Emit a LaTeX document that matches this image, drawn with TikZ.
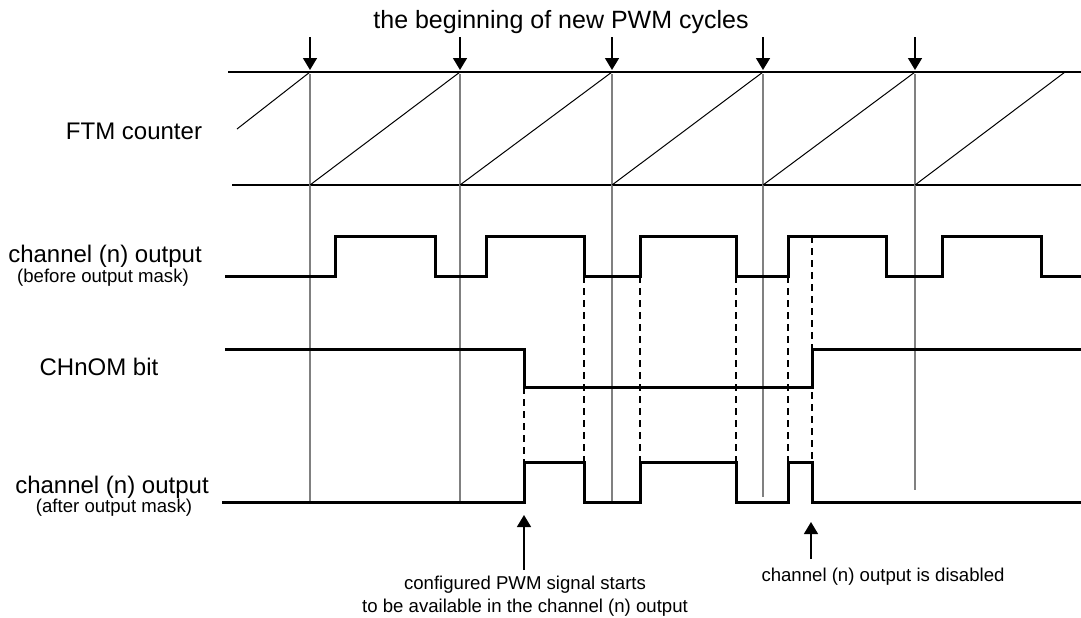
\documentclass[tikz,border=0pt]{standalone}
\usepackage{fontspec}
\setmainfont{Liberation Sans}
\usepackage{xcolor}
\usetikzlibrary{arrows.meta}
\definecolor{cyclegray}{RGB}{128, 128, 128}
\newcommand{\biglbl}{\fontsize{12}{14}\selectfont}
\newcommand{\toplbl}{\fontsize{12.5}{14}\selectfont}
\newcommand{\smalllbl}{\fontsize{9.3}{11.5}\selectfont}

\begin{document}
\begin{tikzpicture}[x=0.5pt, y=-0.5pt,
    signal/.style={line width=1.5pt, line join=miter},
    band/.style={line width=1.3pt},
    ramp/.style={line width=0.5pt},
    cycleline/.style={line width=1pt, cyclegray},
    maskline/.style={line width=0.8pt, dash pattern=on 3.5pt off 2.5pt},
    marker/.style={line width=0.75pt, -{Triangle[width=7pt, length=6pt]}},
    lbl/.style={inner sep=0pt, font=\biglbl},
    sublbl/.style={inner sep=0pt, font=\smalllbl}]
    \useasboundingbox (0,0) rectangle (1081,617);

    % Counter band
    \draw[band] (228,72) -- (1081,72);
    \draw[band] (232,185) -- (1081,185);

    % Start of each PWM cycle
    \foreach \x/\yend [count=\i] in {310/502, 460/502, 612/502, 763/497, 915/490} {
        \coordinate (top\i) at (\x,70);
        \coordinate (tail\i) at (\x,37);
        \draw[cycleline] (\x,74) -- (\x,\yend);
        \draw[marker] (tail\i) -- (top\i);
    }
    \node[lbl, font=\toplbl] (cycles) at (561,22) {the beginning of new PWM cycles};

    % Sawtooth of the counter
    \draw[ramp] (237,129) -- (310,72);
    \draw[ramp] (310,185) -- (460,72);
    \draw[ramp] (460,185) -- (612,72);
    \draw[ramp] (612,185) -- (763,72);
    \draw[ramp] (763,185) -- (915,72);
    \draw[ramp] (915,185) -- (1065,72);

    % Signals
    \draw[signal] (225,276) -| (335,236) -| (435,276) -| (486,236) -| (584,276)
        -| (640,236) -| (736,276) -| (788,236) -| (886,276) -| (942,236)
        -| (1041,276) -- (1081,276);
    \draw[signal] (225,349) -| (524,387) -| (812,349) -- (1081,349);
    \draw[signal] (222,502) -| (524,462) -| (584,502) -| (640,462) -| (736,502)
        -| (788,462) -| (812,502) -- (1081,502);

    % Edges carried through the mask
    \draw[maskline] (524,387) -- (524,462);
    \draw[maskline] (584,276) -- (584,462);
    \draw[maskline] (640,276) -- (640,462);
    \draw[maskline] (736,276) -- (736,462);
    \draw[maskline] (788,276) -- (788,462);
    \draw[maskline] (812,236) -- (812,462);

    % Row labels
    \node[lbl] (ftm) at (134,131) {FTM counter};
    \node[lbl] (before) at (105,256) {channel (n) output};
    \node[sublbl] (beforesub) at (103,278) {(before output mask)};
    \node[lbl] (chnom) at (99,367) {CHnOM bit};
    \node[lbl] (after) at (112,487) {channel (n) output};
    \node[sublbl] (aftersub) at (114,508) {(after output mask)};

    % Notes
    \coordinate (starttip) at (524,515);
    \coordinate (starttail) at (524,570);
    \draw[marker] (starttail) -- (starttip);
    \node[sublbl, align=center] (startnote) at (525,596)
        {configured PWM signal starts\\to be available in the channel (n) output};

    \coordinate (offtip) at (811,522);
    \coordinate (offtail) at (811,559);
    \draw[marker] (offtail) -- (offtip);
    \node[sublbl] (offnote) at (883,577) {channel (n) output is disabled};
\end{tikzpicture}
\end{document}
